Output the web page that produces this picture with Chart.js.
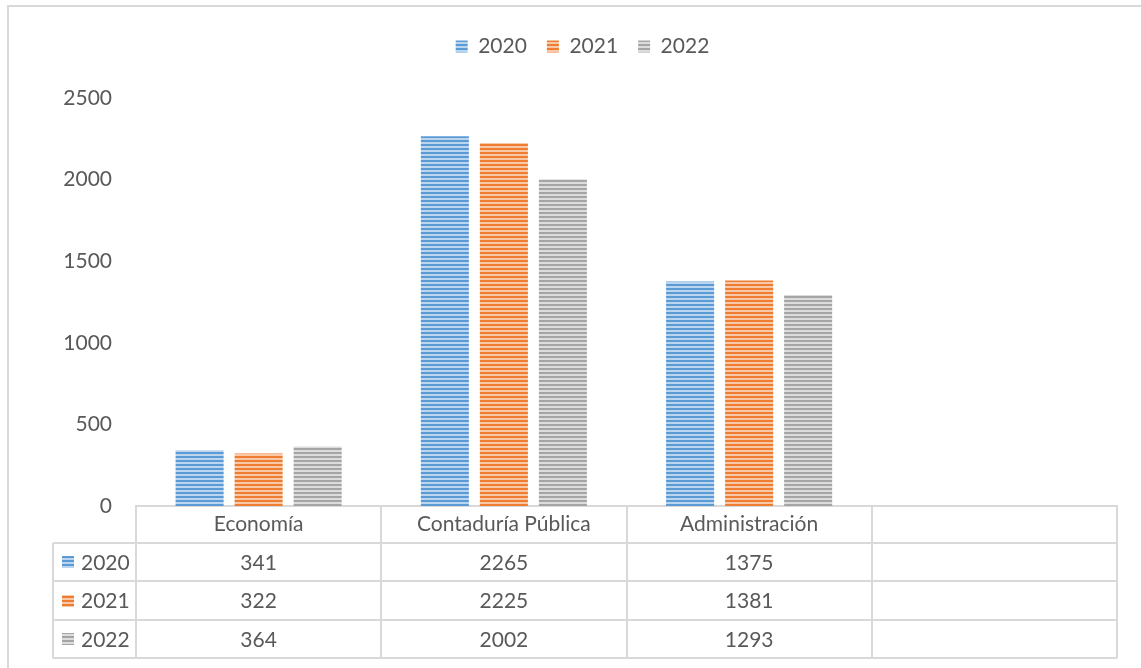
<!DOCTYPE html>
<html>
<head>
<meta charset="utf-8">
<script src="https://cdn.jsdelivr.net/npm/chart.js@4.4.1/dist/chart.umd.min.js"></script>
<style>
  html, body { margin: 0; padding: 0; background: #fff; }
  #wrap { width: 1141px; height: 668px; position: relative; }
</style>
</head>
<body>
<div id="wrap"><canvas id="chart" width="1141" height="668"></canvas></div>
<script>
// data
const categories = ['Economía', 'Contaduría Pública', 'Administración', ''];
const years = ['2020', '2021', '2022'];
const values2020 = [341, 2265, 1375];
const values2021 = [322, 2225, 1381];
const values2022 = [364, 2002, 1293];
const seriesValues = [values2020, values2021, values2022];
const yMax = 2500;
const yStep = 500;

const colors = ['#5B9BD5', '#ED7D31', '#A5A5A5'];
const lightColors = ['#BBD5EE', '#F8C8A8', '#DCDCDC'];
const textColor = '#595959';
const lineColor = '#D9D9D9';
const fontFamily = 'Lato, "Open Sans", sans-serif';
const fontSize = 21;

const canvas = document.getElementById('chart');
const ctx = canvas.getContext('2d');

// horizontal stripes like the office pattern fill
function stripes(color, light) {
    const c = document.createElement('canvas');
    c.width = 4;
    c.height = 4;
    const g = c.getContext('2d');
    g.fillStyle = light;
    g.fillRect(0, 0, 4, 4);
    g.fillStyle = color;
    g.fillRect(0, 0, 4, 2);
    return ctx.createPattern(c, 'repeat');
}

const patterns = colors.map((c, i) => stripes(c, lightColors[i]));

// extra room between legend and plot
const legendGap = {
    id: 'legendGap',
    beforeInit(chart) {
        const fit = chart.legend.fit;
        chart.legend.fit = function () {
            fit.bind(chart.legend)();
            this.height += 31;
        };
    }
};

// frame + data table under the axis
const tablePlugin = {
    id: 'tablePlugin',
    beforeDraw(chart) {
        const g = chart.ctx;
        g.save();
        g.strokeStyle = lineColor;
        g.lineWidth = 2;
        g.beginPath();
        g.moveTo(8, 668);
        g.lineTo(8, 6);
        g.lineTo(1141, 6);
        g.stroke();
        g.restore();
    },
    afterDraw(chart) {
        const g = chart.ctx;
        const area = chart.chartArea;
        const n = categories.length;
        const colW = (area.right - area.left) / n;
        const headerH = 37;
        const rowH = 38.4;
        const top = area.bottom;
        const keyLeft = 53;
        const bottom = top + headerH + rowH * years.length;

        g.save();
        g.strokeStyle = lineColor;
        g.lineWidth = 2;
        g.beginPath();
        // column lines
        for (let i = 0; i <= n; i++) {
            const x = Math.round(area.left + colW * i);
            g.moveTo(x, top);
            g.lineTo(x, bottom);
        }
        g.moveTo(keyLeft, top + headerH);
        g.lineTo(keyLeft, bottom);
        // row lines
        for (let r = 0; r <= years.length; r++) {
            const y = Math.round(top + headerH + rowH * r);
            g.moveTo(keyLeft, y);
            g.lineTo(area.right, y);
        }
        g.stroke();

        g.font = fontSize + 'px ' + fontFamily;
        g.textBaseline = 'middle';
        years.forEach((yr, r) => {
            const cy = top + headerH + rowH * r + rowH / 2;
            g.fillStyle = patterns[r];
            g.fillRect(62, Math.round(cy - 6), 12, 12);
            g.fillStyle = textColor;
            g.textAlign = 'left';
            g.fillText(yr, 81, cy + 1);
            g.textAlign = 'center';
            seriesValues[r].forEach((v, i) => {
                g.fillText(String(v), area.left + colW * i + colW / 2, cy + 1);
            });
        });
        g.restore();
    }
};

new Chart(canvas, {
    type: 'bar',
    data: {
        labels: categories,
        datasets: years.map((yr, i) => ({
            label: yr,
            data: seriesValues[i],
            backgroundColor: patterns[i],
            borderWidth: 0,
            barPercentage: 0.814,
            categoryPercentage: 0.722
        }))
    },
    options: {
        responsive: false,
        animation: false,
        layout: { padding: { top: 16, right: 24, bottom: 10, left: 48 } },
        plugins: {
            legend: {
                position: 'top',
                labels: {
                    boxWidth: 12,
                    boxHeight: 12,
                    padding: 20,
                    color: textColor,
                    font: { family: fontFamily, size: fontSize }
                }
            },
            tooltip: { enabled: false }
        },
        scales: {
            x: {
                grid: { display: false, drawTicks: false },
                border: { display: true, color: lineColor, width: 2 },
                ticks: {
                    color: textColor,
                    padding: 6,
                    maxRotation: 0,
                    autoSkip: false,
                    font: { family: fontFamily, size: fontSize }
                },
                afterFit(scale) { scale.height = 152; }
            },
            y: {
                min: 0,
                max: yMax,
                grid: { display: false, drawTicks: false },
                border: { display: false },
                ticks: {
                    stepSize: yStep,
                    color: textColor,
                    padding: 24,
                    font: { family: fontFamily, size: fontSize },
                    callback: (v) => String(v)
                },
                afterFit(scale) { scale.width = 88; }
            }
        }
    },
    plugins: [legendGap, tablePlugin]
});
</script>
</body>
</html>
